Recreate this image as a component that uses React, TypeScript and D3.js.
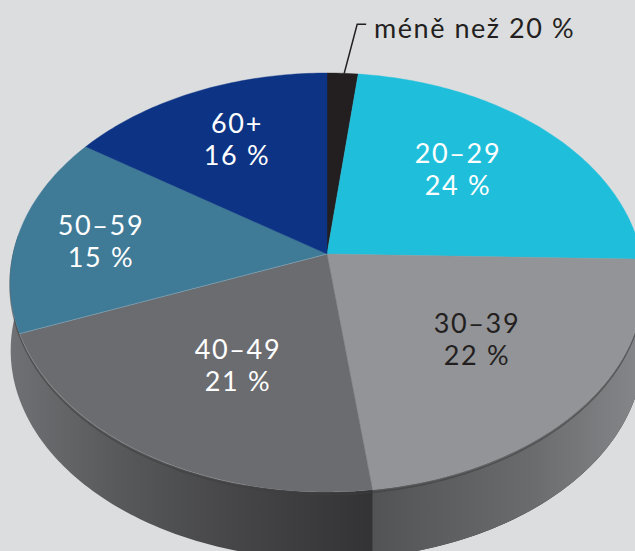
import React from "react";
import * as d3 from "d3";

const categories = ["méně než 20 %", "20–29", "30–39", "40–49", "50–59", "60+"];
const labelValues = [null, 24, 22, 21, 15, 16];
// slice sizes as actually drawn in the picture (the printed labels are rounded)
const drawnShares = [1.8, 23.6, 22.6, 21, 15.5, 15.5];
const sliceColors = ["#231f20", "#1fbfdb", "#939497", "#6b6c70", "#3f7a97", "#0d3484"];
const labelColors = ["#231f20", "#ffffff", "#231f20", "#ffffff", "#ffffff", "#ffffff"];
const labelCenters: ([number, number] | null)[] = [null, [458, 163], [477, 333], [238, 359], [101, 235], [237, 133]];

const W = 635, H = 551;
const apex = { x: 327, y: 254 };
const K = 0.136, A = 205.6, B = 314, DEPTH = 68, SHRINK = 0.998;
const FONT = "Lato, 'Open Sans', sans-serif";

function project(theta: number, dy = 0, shrink = 1): [number, number] {
  const x = Math.sin(theta), y = -Math.cos(theta);
  const d = 1 - K * y;
  return [apex.x + (shrink * B * x) / d, apex.y + dy + (shrink * A * y) / d];
}
function rim(a0: number, a1: number, dy = 0, shrink = 1): [number, number][] {
  const n = Math.max(4, Math.ceil(Math.abs(a1 - a0) * 60));
  return d3.range(n + 1).map((i) => project(a0 + ((a1 - a0) * i) / n, dy, shrink));
}

export default function App() {
  const pie = d3.pie<number>().sort(null).value((d) => d);
  const arcs = pie(drawnShares);
  const line = d3.line();
  const sideStart = (Math.PI * 3) / 2 + 0.1;
  const sideEnd = Math.PI / 2 - 0.1;
  const sidePts = [...rim(sideEnd, sideStart), ...rim(sideStart, sideEnd, DEPTH, SHRINK)];
  const splitAngle = arcs[2].endAngle;
  const rimFront = rim(sideEnd, sideStart, 2.5);
  const leaderStart = project(arcs[0].startAngle + (arcs[0].endAngle - arcs[0].startAngle) * 0.55);
  const splitTop = project(splitAngle);
  const rightSide = [...rim(sideEnd, splitAngle), ...rim(splitAngle, sideEnd, DEPTH, SHRINK)];
  const greyRim = rim(arcs[3].endAngle, arcs[3].startAngle + 0.35);
  const tealEdge = [[apex.x, apex.y], project(arcs[3].endAngle)] as [number, number][];

  return (
    <svg width={W} height={H} viewBox={`0 0 ${W} ${H}`} style={{ position: "fixed", left: 0, top: 0 }}>
      <defs>
        <linearGradient id="sideL" gradientUnits="userSpaceOnUse" x1={8} x2={splitTop[0]} y1={0} y2={0}>
          <stop offset="0" stopColor="#707174" />
          <stop offset="0.3" stopColor="#58595b" />
          <stop offset="0.6" stopColor="#474749" />
          <stop offset="1" stopColor="#333335" />
        </linearGradient>
        <linearGradient id="sideR" gradientUnits="userSpaceOnUse" x1={splitTop[0]} x2={W} y1={0} y2={0}>
          <stop offset="0" stopColor="#525355" />
          <stop offset="0.6" stopColor="#6a6b6d" />
          <stop offset="1" stopColor="#848588" />
        </linearGradient>
      </defs>
      <rect width={W} height={H} fill="#dcdddf" />
      <path d={line(sidePts) + "Z"} fill="url(#sideL)" />
      <path d={line(rightSide) + "Z"} fill="url(#sideR)" />
      <path d={line(rimFront) ?? ""} fill="none" stroke="#3f3f41" strokeOpacity={0.6} strokeWidth={1.5} />
      {arcs.map((a, i) => (
        <path
          key={categories[i]}
          d={line([[apex.x, apex.y], ...rim(a.startAngle, a.endAngle)]) + "Z"}
          fill={sliceColors[i]}
          stroke={sliceColors[i]}
          strokeWidth={0.4}
        />
      ))}
      <path d={line(tealEdge) ?? ""} fill="none" stroke="#b4c3cb" strokeWidth={0.6} strokeOpacity={0.7} />
      <path d={line(greyRim) ?? ""} fill="none" stroke="#9a9b9e" strokeWidth={0.6} strokeOpacity={0.6} />
      <path
        d={line([leaderStart, [leaderStart[0] + 13, leaderStart[1] - 49], [leaderStart[0] + 22, leaderStart[1] - 49]]) ?? ""}
        fill="none"
        stroke="#231f20"
        strokeWidth={1.5}
      />
      <text x={374} y={38} fontFamily={FONT} fontSize={27} fill="#231f20" letterSpacing={1.55}>
        {categories[0]}
      </text>
      {labelCenters.map((c, i) =>
        c ? (
          <text key={i} textAnchor="middle" fontFamily={FONT} fontSize={27} letterSpacing={1.6} fill={labelColors[i]}>
            <tspan x={c[0]} y={c[1]}>{categories[i]}</tspan>
            <tspan x={c[0]} y={c[1] + 32}>{`${labelValues[i]} %`}</tspan>
          </text>
        ) : null
      )}
    </svg>
  );
}
